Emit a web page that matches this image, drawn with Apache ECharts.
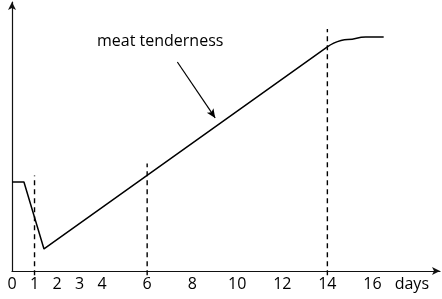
<!DOCTYPE html>
<html><head><meta charset="utf-8">
<script src="https://cdn.jsdelivr.net/npm/echarts@6/dist/echarts.min.js"></script>
<style>html,body{margin:0;padding:0;background:#fff}#c{width:442px;height:299px}</style>
</head><body><div id="c"></div>
<script>
// Tick labels on the day axis
const tickDays = [0, 1, 2, 3, 4, 6, 8, 10, 12, 14, 16];
const unitLabelPos = 17.75; // where "days" sits
const unitLabel = 'days';
// Tenderness curve: straight part
const straightDays = [0, 0.53, 1.42, 14];
const straightVals = [33.1, 33.1, 8.2, 83.3];
// Tenderness curve: levelling part
const curveDays = [14, 14.9, 15.7, 16.5];
const curveVals = [83.3, 86.1, 87.0, 87.0];
// Dashed markers: day, top value
const markerDays = [1, 6, 14];
const markerTops = [35.5, 40, 90];
const markerBottom = -1.6;
// Annotation arrow (days, value)
const arrowFrom = [7.34, 77.7];
const arrowTo = [9.02, 56.9];
const annotation = 'meat tenderness';

const chart = echarts.init(document.getElementById('c'));
const font = 'Open Sans';
const series = [
  { type: 'line', data: straightDays.map((d, i) => [d, straightVals[i]]), symbol: 'none',
    lineStyle: { color: '#000', width: 1.5 }, animation: false,
    markLine: { silent: true, symbol: ['none', 'arrow'], symbolSize: [6, 9],
      lineStyle: { color: '#000', width: 1.2, type: 'solid' }, label: { show: false },
      data: [[{ coord: arrowFrom }, { coord: arrowTo }]] } },
  { type: 'line', data: curveDays.map((d, i) => [d, curveVals[i]]), symbol: 'none', smooth: 0.5,
    smoothMonotone: 'x', lineStyle: { color: '#000', width: 1.5 }, animation: false }
];
markerDays.forEach((d, i) => {
  series.push({ type: 'line', data: [[d, markerBottom], [d, markerTops[i]]], symbol: 'none', clip: false,
    lineStyle: { color: '#000', width: 1.4, type: [5, 4] }, animation: false, z: 1 });
});
chart.setOption({
  animation: false,
  grid: { left: 12, right: 2, top: 2, bottom: 28 },
  xAxis: { type: 'value', min: 0, max: 19,
    axisLine: { show: true, symbol: ['none', 'arrow'], symbolSize: [6, 8], lineStyle: { color: '#111', width: 1.2 } },
    axisTick: { show: false }, splitLine: { show: false },
    axisLabel: { customValues: tickDays.concat([unitLabelPos]), margin: 5, color: '#000', fontSize: 16, fontFamily: font,
      formatter: v => (v === unitLabelPos ? unitLabel : String(v)) } },
  yAxis: { type: 'value', min: 0, max: 100,
    axisLine: { show: true, symbol: ['none', 'arrow'], symbolSize: [6, 8], lineStyle: { color: '#111', width: 1.2 } },
    axisTick: { show: false }, axisLabel: { show: false }, splitLine: { show: false } },
  graphic: [{ type: 'text', left: 97, top: 33, style: { text: annotation, font: '16px "' + font + '"', fill: '#000' } }],
  series
});
</script></body></html>
